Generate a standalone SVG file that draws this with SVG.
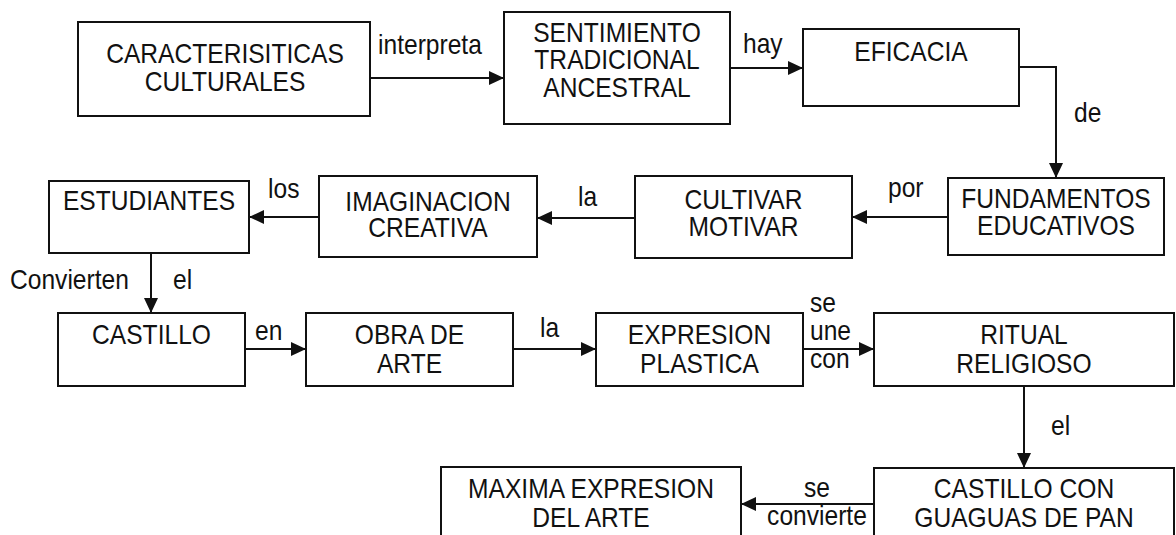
<svg xmlns="http://www.w3.org/2000/svg" width="1176" height="535" viewBox="0 0 1176 535">
<style>
rect{fill:#fff;stroke:#111;stroke-width:2}
.c{fill:none;stroke:#111;stroke-width:2}
text{font-family:"Liberation Sans",Arial,sans-serif;font-size:24.6px;fill:#111}
.m{text-anchor:middle}
</style>
<defs>
<marker id="ah" markerUnits="userSpaceOnUse" markerWidth="15" markerHeight="14" refX="15" refY="7" orient="auto">
<path d="M0,0 L15,7 L0,14 Z" fill="#111"/>
</marker>
</defs>
<rect x="0" y="0" width="1176" height="535" style="stroke:none"/>
<g id="connectors">
<path class="c" d="M370,78 H504" marker-end="url(#ah)"/>
<path class="c" d="M730,68 H803" marker-end="url(#ah)"/>
<path class="c" d="M1019,67 H1056 V178" marker-end="url(#ah)"/>
<path class="c" d="M948,217 H852" marker-end="url(#ah)"/>
<path class="c" d="M635,218 H537" marker-end="url(#ah)"/>
<path class="c" d="M319,217 H249" marker-end="url(#ah)"/>
<path class="c" d="M151,253 V313" marker-end="url(#ah)"/>
<path class="c" d="M245,349 H306" marker-end="url(#ah)"/>
<path class="c" d="M513,349 H596" marker-end="url(#ah)"/>
<path class="c" d="M803,349 H874" marker-end="url(#ah)"/>
<path class="c" d="M1024,386 V468" marker-end="url(#ah)"/>
<path class="c" d="M874,504 H741" marker-end="url(#ah)"/>
<text transform="matrix(1 0 0 1.1 378 54)">interpreta</text>
<text transform="matrix(1 0 0 1.1 743 53)">hay</text>
<text transform="matrix(1 0 0 1.1 1074 122)">de</text>
<text transform="matrix(1 0 0 1.1 888 197)">por</text>
<text transform="matrix(1 0 0 1.1 578 206)">la</text>
<text transform="matrix(1 0 0 1.1 268 198)">los</text>
<text transform="matrix(1 0 0 1.1 10 289)">Convierten</text>
<text transform="matrix(1 0 0 1.1 173 289)">el</text>
<text transform="matrix(1 0 0 1.1 255 340)">en</text>
<text transform="matrix(1 0 0 1.1 540 337)">la</text>
<text transform="matrix(1 0 0 1.1 810 312)">se<tspan x="0" dy="25.5">une</tspan><tspan x="0" dy="25.5">con</tspan></text>
<text transform="matrix(1 0 0 1.1 1051 435)">el</text>
<text class="m" transform="matrix(1 0 0 1.1 817 497)">se<tspan x="0" dy="25.5">convierte</tspan></text>
</g>
<g id="n1">
<rect x="78" y="22" width="292" height="94"/>
<text class="m" transform="matrix(1 0 0 1.1 225 62.5)">CARACTERISITICAS<tspan x="0" dy="25.5">CULTURALES</tspan></text>
</g>
<g id="n2">
<rect x="504" y="12" width="226" height="112"/>
<text class="m" transform="matrix(1 0 0 1.1 617 42)">SENTIMIENTO<tspan x="0" dy="25">TRADICIONAL</tspan><tspan x="0" dy="25">ANCESTRAL</tspan></text>
</g>
<g id="n3">
<rect x="803" y="29" width="216" height="77"/>
<text class="m" transform="matrix(1 0 0 1.1 911 61)">EFICACIA</text>
</g>
<g id="n4">
<rect x="948" y="178" width="216" height="77"/>
<text class="m" transform="matrix(1 0 0 1.1 1056 208)">FUNDAMENTOS<tspan x="0" dy="24.5">EDUCATIVOS</tspan></text>
</g>
<g id="n5">
<rect x="635" y="176" width="217" height="82"/>
<text class="m" transform="matrix(1 0 0 1.1 743.5 209)">CULTIVAR<tspan x="0" dy="25">MOTIVAR</tspan></text>
</g>
<g id="n6">
<rect x="319" y="176" width="218" height="81"/>
<text class="m" transform="matrix(1 0 0 1.1 428 211)">IMAGINACION<tspan x="0" dy="24">CREATIVA</tspan></text>
</g>
<g id="n7">
<rect x="49" y="181" width="200" height="72"/>
<text class="m" transform="matrix(1 0 0 1.1 149 210)">ESTUDIANTES</text>
</g>
<g id="n8">
<rect x="58" y="313" width="187" height="73"/>
<text class="m" transform="matrix(1 0 0 1.1 151.5 344)">CASTILLO</text>
</g>
<g id="n9">
<rect x="306" y="313" width="207" height="73"/>
<text class="m" transform="matrix(1 0 0 1.1 409.5 344)">OBRA DE<tspan x="0" dy="26.5">ARTE</tspan></text>
</g>
<g id="n10">
<rect x="596" y="313" width="207" height="73"/>
<text class="m" transform="matrix(1 0 0 1.1 699.5 344)">EXPRESION<tspan x="0" dy="26.5">PLASTICA</tspan></text>
</g>
<g id="n11">
<rect x="874" y="313" width="300" height="73"/>
<text class="m" transform="matrix(1 0 0 1.1 1024 344)">RITUAL<tspan x="0" dy="26.5">RELIGIOSO</tspan></text>
</g>
<g id="n12">
<rect x="874" y="468" width="300" height="80"/>
<text class="m" transform="matrix(1 0 0 1.1 1024 498)">CASTILLO CON<tspan x="0" dy="26.5">GUAGUAS DE PAN</tspan></text>
</g>
<g id="n13">
<rect x="441" y="467" width="300" height="80"/>
<text class="m" transform="matrix(1 0 0 1.1 591 498)">MAXIMA EXPRESION<tspan x="0" dy="26.5">DEL ARTE</tspan></text>
</g>
</svg>
